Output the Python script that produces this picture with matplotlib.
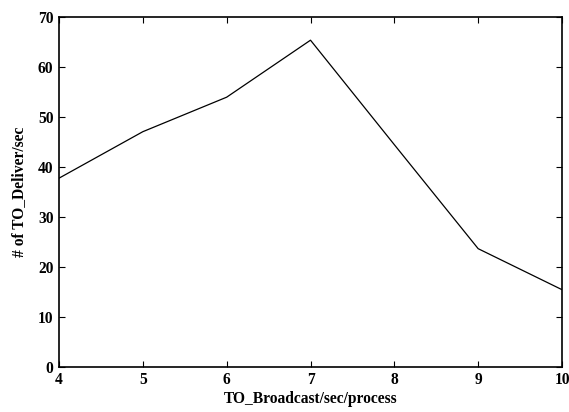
import matplotlib
matplotlib.use("Agg")
import matplotlib.pyplot as plt

# TO_Deliver throughput vs. broadcast rate per process
broadcast_rate = [4, 5, 6, 7, 8, 9, 10]
deliver_rate = [37.7, 47.0, 53.9, 65.3, 44.4, 23.6, 15.4]

plt.rcParams["font.family"] = "Liberation Serif"
plt.rcParams["font.weight"] = "bold"

fig = plt.figure(figsize=(5.69, 4.12), dpi=100)
ax = fig.add_axes([0.1037, 0.11, 0.884, 0.8495])

ax.plot(broadcast_rate, deliver_rate, color="black", linewidth=0.9)

ax.set_xlim(4, 10)
ax.set_ylim(0, 70)
ax.set_xticks(range(4, 11))
ax.set_yticks(range(0, 71, 10))

ax.tick_params(direction="in", length=4, width=0.8, top=True, right=True,
               labelsize=11.2, pad=4)
for lab in ax.get_xticklabels() + ax.get_yticklabels():
    lab.set_fontweight("bold")
for s in ax.spines.values():
    s.set_linewidth(1.2)

ax.set_xlabel("TO_Broadcast/sec/process", fontsize=11.2, fontweight="bold", labelpad=2)
ax.set_ylabel("# of TO_Deliver/sec", fontsize=11.2, fontweight="bold", labelpad=8)

fig.savefig("out.png", dpi=100)
